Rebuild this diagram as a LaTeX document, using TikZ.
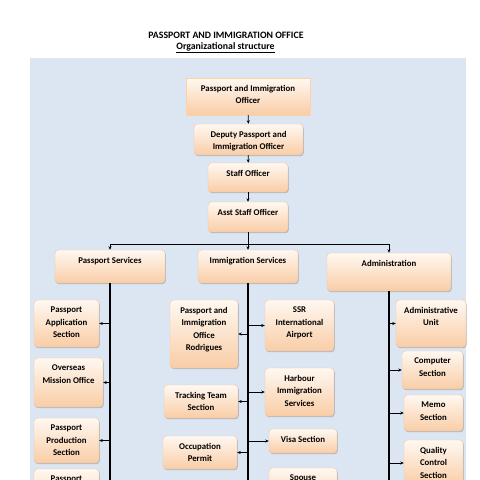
\documentclass[tikz,border=0pt]{standalone}
\usepackage{fontspec}
\setmainfont{Carlito}
\usetikzlibrary{shadows,arrows.meta}
\definecolor{panel}{HTML}{DCE6F2}
\definecolor{boxtop}{HTML}{FFF8F1}
\definecolor{boxbot}{HTML}{F9CDA6}
\definecolor{boxline}{HTML}{F3C6A0}
\newcommand{\bxt}[3]{\parbox[c][#2pt][t]{#1pt}{\vspace*{7pt}\centering #3\par}}
\begin{document}
\begin{tikzpicture}[x=1pt,y=-1pt,
  box/.style={inner sep=0pt, rounded corners=3.5pt, top color=boxtop, bottom color=boxbot,
    draw=boxline, line width=0.4pt,
    drop shadow={shadow xshift=0.8pt,shadow yshift=-1.2pt,opacity=0.35,fill=black!60},
    font=\fontsize{8.8}{12.6}\selectfont\bfseries},
  arr/.style={-{Stealth[length=3.5pt,width=3pt]}, line width=0.6pt},
  trunk/.style={line width=1.3pt}]
\useasboundingbox (0,0) rectangle (480,480);
\clip (0,0) rectangle (480,480);
\fill[panel] (30,58) rectangle (466,495);
\node[font=\fontsize{9.8}{11}\selectfont\bfseries] (title) at (226,35) {PASSPORT AND IMMIGRATION OFFICE};
\node[font=\fontsize{9.8}{11}\selectfont\bfseries] (sub) at (225.5,48) {\underline{Organizational structure}};
% top chain
\node[box,sharp corners,draw=orange!35] (top1) at (248,96.5) {\bxt{124}{37}{Passport and Immigration\\Officer}};
\node[box] (dep) at (248.5,139.5) {\bxt{109}{31}{Deputy Passport and\\Immigration Officer}};
\node[box] (staff) at (248,177.5) {\bxt{80}{29}{Staff Officer}};
\node[box] (asst) at (248,217) {\bxt{80}{30}{Asst Staff Officer}};
% services
\node[box] (ps) at (110,266.5) {\bxt{110}{33}{Passport Services}};
\node[box] (is) at (248,266.5) {\bxt{100}{33}{Immigration Services}};
\node[box] (adm) at (389,272) {\bxt{124}{38}{Administration}};
% passport children
\node[box] (pa) at (66.5,323.5) {\bxt{65}{47}{Passport\\Application\\Section}};
\node[box] (om) at (68.5,382.5) {\bxt{69}{49}{Overseas\\Mission Office}};
\node[box] (pp) at (66.5,440.5) {\bxt{65}{45}{Passport\\Production\\Section}};
\node[box] (p4) at (66.5,492) {\bxt{65}{46}{Passport}};
% immigration children left
\node[box] (pir) at (204,334) {\bxt{68}{68}{Passport and\\Immigration\\Office\\Rodrigues}};
\node[box] (tt) at (201,401.5) {\bxt{74}{33}{Tracking Team\\Section}};
\node[box] (op) at (200,452.5) {\bxt{74}{33}{Occupation\\Permit}};
% immigration children right
\node[box] (ssr) at (299.5,325.5) {\bxt{69}{51}{SSR\\International\\Airport}};
\node[box] (hb) at (299.5,392) {\bxt{69}{48}{Harbour\\Immigration\\Services}};
\node[box] (visa) at (303,441) {\bxt{68}{24}{Visa Section}};
\node[box] (sp) at (303,488) {\bxt{68}{40}{Spouse}};
% administration children
\node[box] (au) at (431,323.5) {\bxt{70}{47}{Administrative\\Unit}};
\node[box] (cs) at (432.5,370) {\bxt{61}{38}{Computer\\Section}};
\node[box] (ms) at (433.5,413) {\bxt{59}{36}{Memo\\Section}};
\node[box] (qc) at (433.5,463) {\bxt{59}{46}{Quality\\Control\\Section}};
% connectors
\coordinate (bus) at (248,244);
\coordinate (bot) at (0,495);
\draw[arr] (top1) -- (dep);
\draw[arr] (dep) -- (staff);
\draw[arr] (staff) -- (asst);
\draw[line width=0.8pt] (asst.south) -- (bus);
\draw[line width=0.8pt] (ps.north |- bus) -- (adm.north |- bus);
\draw[arr] (ps.north |- bus) -- (ps.north);
\draw[arr] (bus) -- (is.north);
\draw[arr] (adm.north |- bus) -- (adm.north);
\draw[trunk] (ps.south) -- (ps.south |- bot);
\draw[trunk] (is.south) -- (is.south |- bot);
\draw[trunk] (adm.south) -- (adm.south |- bot);
\draw[arr] (pa.east -| ps.south) -- (pa.east);
\draw[arr] (om.east -| ps.south) -- (om.east);
\draw[arr] (pp.east -| ps.south) -- (pp.east);
\draw[arr] (pir.east -| is.south) -- (pir.east);
\draw[arr] (tt.east -| is.south) -- (tt.east);
\draw[arr] (op.east -| is.south) -- (op.east);
\draw[arr] (ssr.west -| is.south) -- (ssr.west);
\draw[arr] (hb.west -| is.south) -- (hb.west);
\draw[arr] (visa.west -| is.south) -- (visa.west);
\draw[arr] (au.west -| adm.south) -- (au.west);
\draw[arr] (cs.west -| adm.south) -- (cs.west);
\draw[arr] (ms.west -| adm.south) -- (ms.west);
\draw[arr] (qc.west -| adm.south) -- (qc.west);
\end{tikzpicture}
\end{document}
